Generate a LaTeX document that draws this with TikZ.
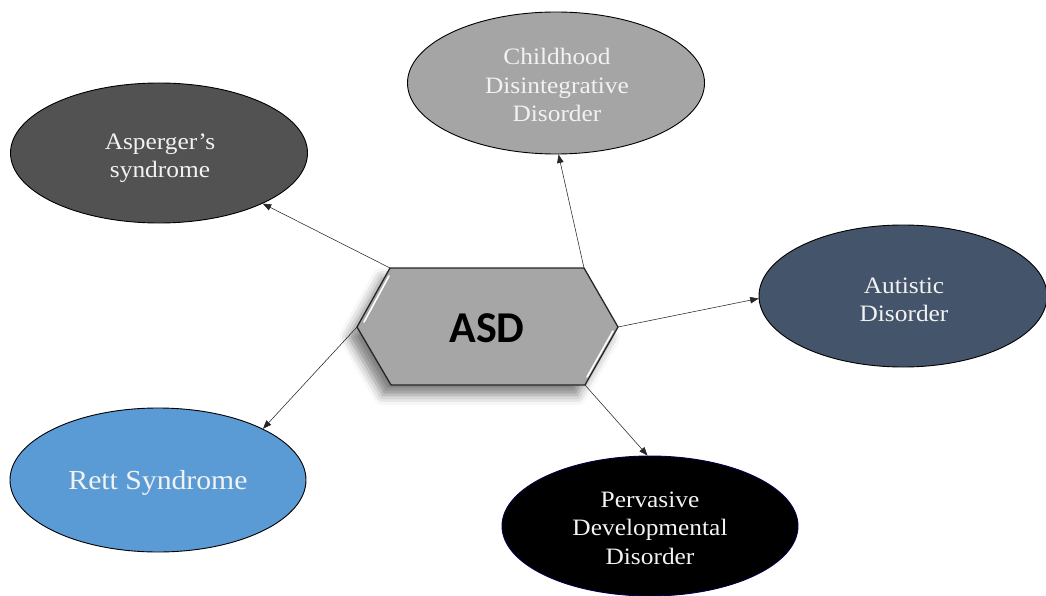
\documentclass[tikz,border=0pt]{standalone}
\usepackage{fontspec}
\newfontfamily\tnrfont[FakeStretch=1.08]{Liberation Serif}
\newfontfamily\asdfont{Carlito}
\usetikzlibrary{arrows.meta,shadows.blur,shapes.geometric}
\definecolor{aspgray}{HTML}{525252}
\definecolor{cddgray}{HTML}{A5A5A5}
\definecolor{autblue}{HTML}{44546A}
\definecolor{rettblue}{HTML}{5B9BD5}
\definecolor{hexgray}{HTML}{A6A6A6}
\definecolor{txtwhite}{HTML}{F2F2F2}
\begin{document}
\begin{tikzpicture}[x=1pt,y=-1pt,
  bubble/.style={ellipse, draw=black, line width=0.9pt, inner sep=0pt},
  btext/.style={text=txtwhite, align=center, inner sep=0pt,
    font=\tnrfont\fontsize{23.5}{28.5}\selectfont},
  conn/.style={-{Triangle[length=8.5pt,width=6.5pt]}, line width=0.55pt, draw=black!85},
  hexshape/.style={fill=hexgray, draw=black!85, line width=1.3pt, line join=miter,
    blur shadow={shadow xshift=-8pt, shadow yshift=-10pt, shadow blur radius=10pt, shadow opacity=50}},
  bevel/.style={draw=white, line width=1.6pt, line cap=round}
]
\useasboundingbox (0,0) rectangle (1046,596);

% ellipses
\node[bubble, fill=aspgray, minimum width=297pt, minimum height=140pt] (asp) at (159,153) {};
\node[bubble, fill=cddgray, minimum width=297pt, minimum height=142pt] (cdd) at (556,83) {};
\node[bubble, fill=autblue, minimum width=288pt, minimum height=142pt] (aut) at (903,296) {};
\node[bubble, fill=rettblue, minimum width=296pt, minimum height=144pt] (rett) at (158,480) {};
\node[bubble, fill=black, draw=black!70!blue, minimum width=296pt, minimum height=140pt] (pdd) at (650,526) {};

\node[btext] (asptxt) at (160,158) {Asperger’s\\syndrome};
\node[btext] (cddtxt) at (557,85) {Childhood\\Disintegrative\\Disorder};
\node[btext] (auttxt) at (904,300) {Autistic\\Disorder};
\node[btext, font=\tnrfont\fontsize{27.5}{32}\selectfont] (retttxt) at (158,483) {Rett Syndrome};
\node[btext] (pddtxt) at (650,528) {Pervasive\\Developmental\\Disorder};

% hexagon
\coordinate (hTL) at (390,268);
\coordinate (hTR) at (584,268);
\coordinate (hR) at (618,327);
\coordinate (hBR) at (585,385);
\coordinate (hBL) at (391,385);
\coordinate (hL) at (357,327);
\path[hexshape] (hTL) -- (hTR) -- (hR) -- (hBR) -- (hBL) -- (hL) -- cycle;
\draw[bevel] (389,276) -- (364,322);
\draw[bevel] (613,331) -- (587,377);
\node[font=\asdfont\bfseries\fontsize{44}{44}\selectfont, text=black] (asd) at (487,328) {ASD};

% connectors
\draw[conn] (hTL) -- (asp.-26);
\draw[conn] (hTR) -- (cdd.-88);
\draw[conn] (hR) -- (aut.181);
\draw[conn] (hBR) -- (pdd.92);
\draw[conn] (hL) -- (rett.26);
\end{tikzpicture}
\end{document}
